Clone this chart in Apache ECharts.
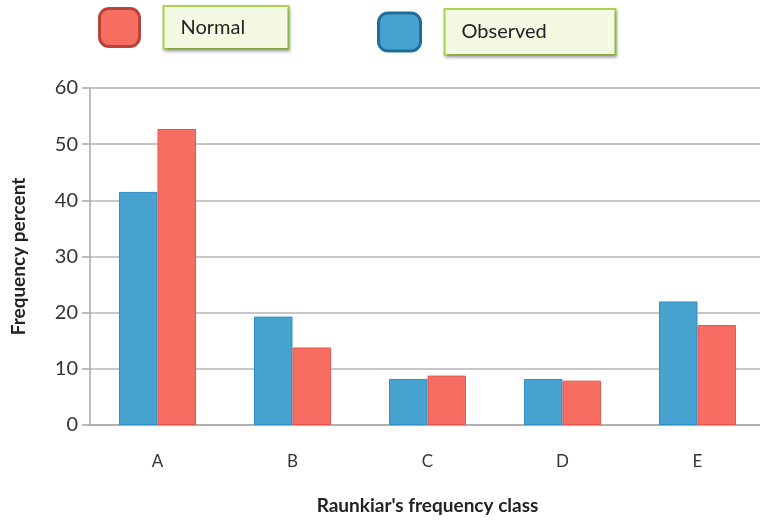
<!DOCTYPE html>
<html><head><meta charset="utf-8">
<script src="https://cdn.jsdelivr.net/npm/echarts@6/dist/echarts.min.js"></script>
<style>html,body{margin:0;padding:0;background:#fff}#c{width:760px;height:521px}</style>
</head><body><div id="c"></div>
<script>
var categories = ['A', 'B', 'C', 'D', 'E'];
var observed = [41.5, 19.3, 8.2, 8.2, 22.0];
var normal = [52.7, 13.8, 8.8, 7.9, 17.8];
var yTicks = [0, 10, 20, 30, 40, 50, 60];

var FONT = 'Lato, "Open Sans", sans-serif';
var chart = echarts.init(document.getElementById('c'), null, {renderer: 'canvas'});
function legendText(w, h) {
  return {
    fontFamily: FONT, fontSize: 20, color: '#222',
    rich: {
      s: {width: 20},
      b: {fontFamily: FONT, fontSize: 20, color: '#222', backgroundColor: '#f4f9e4', borderColor: '#a9d44f', borderWidth: 2,
          width: w, height: h, padding: [10, 10, 10, 16], shadowColor: 'rgba(0,0,0,0.25)', shadowBlur: 3, shadowOffsetX: 1, shadowOffsetY: 2}
    }
  };
}
chart.setOption({
  animation: false,
  legend: [
    {data: [{name: 'Normal', itemStyle: {color: '#f76d62', borderColor: '#b9423b', borderWidth: 3}}],
     left: 98, top: 5, padding: 0, itemWidth: 40, itemHeight: 38, icon: 'roundRect',
     formatter: function (n) { return '{s|}{b|' + n + '}'; }, textStyle: legendText(97, 21)},
    {data: [{name: 'Observed', itemStyle: {color: '#48a2d0', borderColor: '#1f6e9c', borderWidth: 3}}],
     left: 377, top: 8, padding: 0, itemWidth: 42, itemHeight: 38, icon: 'roundRect',
     formatter: function (n) { return '{s|}{b|' + n + '}'; }, textStyle: legendText(143, 24)}
  ],
  grid: {left: 90, right: -5, top: 88, bottom: 96, outerBoundsMode: 'none', containLabel: false},
  xAxis: {
    type: 'category', data: categories,
    name: "Raunkiar's frequency class", nameLocation: 'middle', nameGap: 71,
    nameTextStyle: {fontFamily: FONT, fontSize: 19, fontWeight: 'bold', color: '#222'},
    axisLine: {lineStyle: {color: '#a8a8a8', width: 1.5}},
    axisTick: {show: false},
    axisLabel: {fontFamily: FONT, fontSize: 17, color: '#333', margin: 28}
  },
  yAxis: {
    type: 'value', min: 0, max: 60, interval: 10,
    name: 'Frequency percent', nameLocation: 'middle', nameGap: 62,
    nameTextStyle: {fontFamily: FONT, fontSize: 19, fontWeight: 'bold', color: '#222'},
    axisLine: {show: true, lineStyle: {color: '#a8a8a8', width: 1.5}},
    axisTick: {show: true, length: 8, lineStyle: {color: '#a8a8a8', width: 1.5}},
    axisLabel: {fontFamily: FONT, fontSize: 20, color: '#333', margin: 12,
      formatter: function (v) { return yTicks.indexOf(v) >= 0 ? String(v) : ''; }},
    splitLine: {lineStyle: {color: '#b4b4b4', width: 1.5}}
  },
  series: [
    {name: 'Observed', type: 'bar', data: observed, barGap: '0%', barCategoryGap: '43%',
     itemStyle: {color: '#48a2d0', borderColor: '#2b90c6', borderWidth: 1}},
    {name: 'Normal', type: 'bar', data: normal,
     itemStyle: {color: '#f76d62', borderColor: '#e9554b', borderWidth: 1}}
  ]
});
</script></body></html>
